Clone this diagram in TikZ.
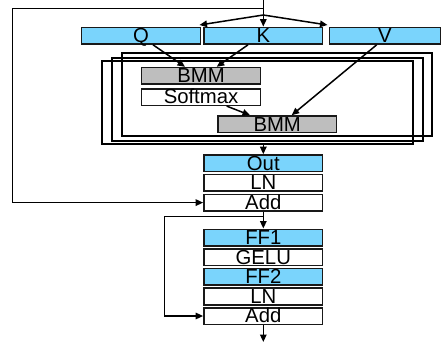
\documentclass[tikz,border=0pt]{standalone}
\usepackage{fontspec}
\setmainfont{Liberation Sans}
\usetikzlibrary{arrows.meta,calc}
\definecolor{qkvblue}{RGB}{122,212,252}
\definecolor{bmmgray}{RGB}{190,190,190}
\tikzset{
  blk/.style={draw=black!90, line width=1.6pt, inner xsep=0pt, inner ysep=0pt,
    minimum width=118.7pt, text height=15.2pt, text depth=1.4pt,
    font=\fontsize{20.3}{20.3}\selectfont},
  bluebox/.style={blk, fill=qkvblue},
  graybox/.style={blk, fill=bmmgray},
  whitebox/.style={blk, fill=white},
  frame/.style={draw=black, line width=1.7pt},
  conn/.style={draw=black, line width=1.5pt},
  arr/.style={conn, -{Triangle[length=7.5pt,width=6.5pt]}}
}
\begin{document}
\begin{tikzpicture}[x=1pt,y=-1pt]
\useasboundingbox (0,0) rectangle (441,346);
% frames
\draw[frame] (122.3,53.3) rectangle (432.3,135.7);
\draw[frame] (112.3,57.7) rectangle (422.7,141);
\node[frame, inner sep=0pt, minimum width=311pt, minimum height=83.3pt] (mha) at (257.8,102.65) {};
% Q K V
\node[bluebox] (Q) at (141,35.7) {Q};
\node[bluebox] (K) at (263.3,35.7) {K};
\node[bluebox, minimum width=111.2pt] (V) at (384.9,35.7) {V};
% attention
\node[graybox] (B1) at (201,75.9) {BMM};
\node[whitebox] (S) at (201,97) {Softmax};
\node[graybox] (B2) at (277.2,124.3) {BMM};
% column
\node[bluebox] (Out) at (263.3,163.3) {Out};
\node[whitebox] (LN1) at (263.3,182.9) {LN};
\node[whitebox] (Add1) at (263.3,202.6) {Add};
\node[bluebox] (FF1) at (263.3,237.6) {FF1};
\node[whitebox] (GELU) at (263.3,257.2) {GELU};
\node[bluebox] (FF2) at (263.3,276.8) {FF2};
\node[whitebox] (LN2) at (263.3,296.4) {LN};
\node[whitebox] (Add2) at (263.3,316) {Add};
% coordinates
\coordinate (in) at (263.3,0);
\coordinate (br) at (263.3,15);
\coordinate (fb) at (263.3,8.3);
\coordinate (qend) at (199.5,25);
\coordinate (vend) at (327.5,25);
\coordinate (sk) at (263.3,216.7);
\coordinate (out) at (263.3,342);
% connectors
\draw[arr] (in) -- (K.north);
\draw[arr] (br) -- (qend);
\draw[arr] (br) -- (vend);
\draw[arr] (fb) -- (12.3,8.3) -- (12.3,202.6) -- (Add1.west);
\draw[arr] ([xshift=12pt]Q.south) -- ([xshift=-16pt]B1.north);
\draw[arr] ([xshift=-15.3pt]K.south) -- ([xshift=15.7pt]B1.north);
\draw[arr] ([xshift=-8.2pt]V.south) -- ([xshift=14.5pt]B2.north);
\draw[arr] ([xshift=25.7pt]S.south) -- ([xshift=-27.2pt]B2.north);
\draw[arr] (mha.south -| Out.north) -- (Out.north);
\draw[arr] (Add1.south) -- (FF1.north);
\draw[arr] (sk) -- (164.3,216.7) -- (164.3,316) -- (Add2.west);
\draw[arr] (Add2.south) -- (out);
\end{tikzpicture}
\end{document}
